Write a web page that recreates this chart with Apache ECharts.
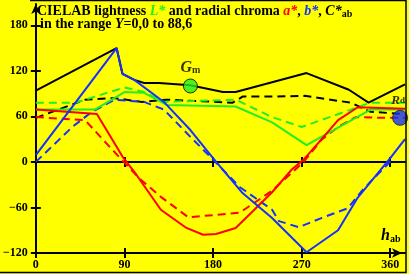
<!DOCTYPE html>
<html>
<head>
<meta charset="utf-8">
<script src="https://cdn.jsdelivr.net/npm/echarts@6/dist/echarts.min.js"></script>
<style>
html, body { margin: 0; padding: 0; background: #ffff00; }
#chart { width: 409px; height: 274px; }
</style>
</head>
<body>
<div id="chart"></div>
<script>
// hue angle h_ab vs value
var hueTicks = [0, 90, 180, 270, 360];
var valueTicks = [-120, -60, 0, 60, 120, 180];

var cabSolid = [[0, 94], [82, 150], [88, 116], [100, 108], [110, 104], [125, 104], [157, 101], [190, 92], [203, 92], [275, 117], [318, 95], [338, 78], [375, 102]];
var cabDashed = [[0, 58], [50, 82], [80, 84], [108, 79], [133, 82], [200, 78], [210, 86], [240, 86], [273, 87], [320, 78], [340, 66], [375, 63]];
var lSolid = [[0, 69], [60, 69], [90, 92], [110, 91], [133, 75], [203, 73], [240, 52], [275, 22], [340, 69], [375, 69]];
var lDashed = [[0, 78], [40, 78], [90, 98], [110, 92], [130, 79], [203, 82], [240, 59], [270, 46], [340, 78], [375, 78]];
var aSolid = [[0, 69], [62, 63], [88, 7], [100, -13], [127, -63], [153, -87], [170, -96], [183, -95], [203, -87], [240, -40], [260, -10], [272, 3], [287, 25], [307, 55], [327, 72], [375, 70]];
var aDashed = [[0, 59], [50, 55], [87, 3], [107, -24], [127, -46], [155, -73], [207, -67], [240, -38], [272, 0], [290, 29], [307, 46], [325, 59], [350, 58], [375, 58]];
var bSolid = [[0, 9], [82, 150], [88, 116], [100, 108], [130, 79], [157, 42], [180, 5], [210, -41], [240, -74], [275, -119], [307, -90], [327, -47], [360, 5], [375, 30]];
var bDashed = [[0, 0], [37, 46], [57, 66], [80, 82], [110, 79], [130, 69], [157, 33], [180, 3], [207, -33], [240, -63], [247, -78], [267, -86], [290, -74], [317, -61], [330, -40], [340, -26], [362, 3]];
var gmPoint = [[157, 100]];
var refPoint = [[370, 58]];

var serif = '"Liberation Serif", "DejaVu Serif", serif';
var green = '#22ee22';
var red = '#ff0000';
var blue = '#1530ff';

function line(name, data, color, dashed) {
    return {
        name: name,
        type: 'line',
        data: data,
        symbol: 'none',
        silent: true,
        clip: true,
        lineStyle: { color: color, width: 2, type: dashed ? [8, 5] : 'solid' },
        z: dashed ? 3 : 4
    };
}

var chart = echarts.init(document.getElementById('chart'), null, { renderer: 'canvas' });

var option = {
    backgroundColor: '#ffff00',
    animation: false,
    grid: { left: 30, right: 4, top: 4, bottom: 21 },
    xAxis: [
        {
            type: 'value', min: 0, max: 375, position: 'bottom',
            axisLine: { onZero: false, lineStyle: { color: '#000', width: 2 }, symbol: ['none', 'arrow'], symbolSize: [7, 10], symbolOffset: [0, -3] },
            axisTick: { customValues: hueTicks, length: 5, lineStyle: { color: '#000', width: 2 } },
            axisLabel: { customValues: hueTicks, color: '#000', fontFamily: serif, fontWeight: 'bold', fontSize: 12, margin: 6 },
            splitLine: { show: false }
        },
        {
            type: 'value', min: 0, max: 375, position: 'bottom',
            axisLine: { show: false, onZero: false },
            axisTick: { customValues: hueTicks, inside: true, length: 5, lineStyle: { color: '#000', width: 2 } },
            axisLabel: { show: false },
            splitLine: { show: false }
        },
        {
            type: 'value', min: 0, max: 375,
            axisLine: { onZero: true, onZeroAxisIndex: 0, lineStyle: { color: '#000', width: 2 } },
            axisTick: { customValues: hueTicks.slice(1), length: 5, lineStyle: { color: '#000', width: 2 } },
            axisLabel: { show: false },
            splitLine: { show: false }
        },
        {
            type: 'value', min: 0, max: 375,
            axisLine: { show: false, onZero: true, onZeroAxisIndex: 0 },
            axisTick: { customValues: hueTicks.slice(1), inside: true, length: 5, lineStyle: { color: '#000', width: 2 } },
            axisLabel: { show: false },
            splitLine: { show: false }
        }
    ],
    yAxis: [
        {
            type: 'value', min: -120, max: 208, position: 'left',
            axisLine: { show: true, onZero: false, lineStyle: { color: '#000', width: 2 }, symbol: ['none', 'arrow'], symbolSize: [7, 10] },
            axisTick: { show: true, customValues: valueTicks, length: 5, lineStyle: { color: '#000', width: 2 } },
            axisLabel: { customValues: valueTicks, color: '#000', fontFamily: serif, fontWeight: 'bold', fontSize: 12, margin: 8,
                formatter: function (v) { return v < 0 ? '\u2212' + (-v) : '' + v; } },
            splitLine: { show: false }
        },
        {
            type: 'value', min: -120, max: 208, position: 'left',
            axisLine: { show: false, onZero: false },
            axisTick: { show: true, customValues: valueTicks, inside: true, length: 5, lineStyle: { color: '#000', width: 2 } },
            axisLabel: { show: false },
            splitLine: { show: false }
        }
    ],
    series: [
        line('C*ab dashed', cabDashed, '#000', true),
        line('L* dashed', lDashed, green, true),
        line('a* dashed', aDashed, red, true),
        line('b* dashed', bDashed, blue, true),
        line('C*ab', cabSolid, '#000', false),
        line('L*', lSolid, green, false),
        line('a*', aSolid, red, false),
        line('b*', bSolid, blue, false),
        {
            type: 'scatter', data: gmPoint, symbolSize: 14, z: 6,
            itemStyle: { color: green, borderColor: '#000', borderWidth: 1 },
            label: {
                show: true, position: 'top', distance: 3,
                formatter: '{g|G}{s|m}',
                rich: {
                    g: { fontFamily: serif, fontStyle: 'italic', fontWeight: 'bold', fontSize: 16, color: '#000' },
                    s: { fontFamily: serif, fontWeight: 'bold', fontSize: 10, color: '#000', verticalAlign: 'bottom', padding: [6, 0, 0, 0] }
                }
            }
        },
        {
            type: 'scatter', data: refPoint, symbolSize: 15, z: 6,
            itemStyle: { color: blue, borderColor: '#222', borderWidth: 1 },
            label: {
                show: true, position: 'top', distance: 3, offset: [-2, 0],
                formatter: '{r|R}{s|d}',
                rich: {
                    r: { fontFamily: serif, fontStyle: 'italic', fontWeight: 'bold', fontSize: 13, color: '#000' },
                    s: { fontFamily: serif, fontWeight: 'bold', fontSize: 9, color: '#000' }
                }
            }
        }
    ],
    graphic: [
        {
            type: 'text', left: 37, top: 4, z: 10,
            style: {
                text: '{b|CIELAB lightness }{g|L*}{b| and radial chroma }{r|a*}{b|, }{u|b*}{b|, }{k|C*}{s|ab}',
                rich: {
                    b: { fontFamily: serif, fontWeight: 'bold', fontSize: 14, fill: '#000' },
                    g: { fontFamily: serif, fontWeight: 'bold', fontStyle: 'italic', fontSize: 14, fill: green },
                    r: { fontFamily: serif, fontWeight: 'bold', fontStyle: 'italic', fontSize: 14, fill: red },
                    u: { fontFamily: serif, fontWeight: 'bold', fontStyle: 'italic', fontSize: 14, fill: blue },
                    k: { fontFamily: serif, fontWeight: 'bold', fontStyle: 'italic', fontSize: 14, fill: '#000' },
                    s: { fontFamily: serif, fontWeight: 'bold', fontSize: 10, fill: '#000', padding: [6, 0, 0, 0] }
                }
            }
        },
        {
            type: 'text', left: 40, top: 17, z: 10,
            style: {
                text: '{b|in the range }{i|Y}{b|=0,0 to 88,6}',
                rich: {
                    b: { fontFamily: serif, fontWeight: 'bold', fontSize: 14, fill: '#000' },
                    i: { fontFamily: serif, fontWeight: 'bold', fontStyle: 'italic', fontSize: 14, fill: '#000' }
                }
            }
        },
        {
            type: 'text', left: 381, top: 228, z: 10,
            style: {
                text: '{h|h}{s|ab}',
                rich: {
                    h: { fontFamily: serif, fontWeight: 'bold', fontStyle: 'italic', fontSize: 16, fill: '#000' },
                    s: { fontFamily: serif, fontWeight: 'bold', fontSize: 10, fill: '#000', padding: [7, 0, 0, 0] }
                }
            }
        },
        // frame
        { type: 'polyline', z: 10, silent: true,
          shape: { points: [[30, 0.5], [406, 0.5], [406, 272.5], [0, 272.5]] },
          style: { stroke: '#000', lineWidth: 1.5, fill: null } }
    ]
};

chart.setOption(option);
</script>
</body>
</html>
